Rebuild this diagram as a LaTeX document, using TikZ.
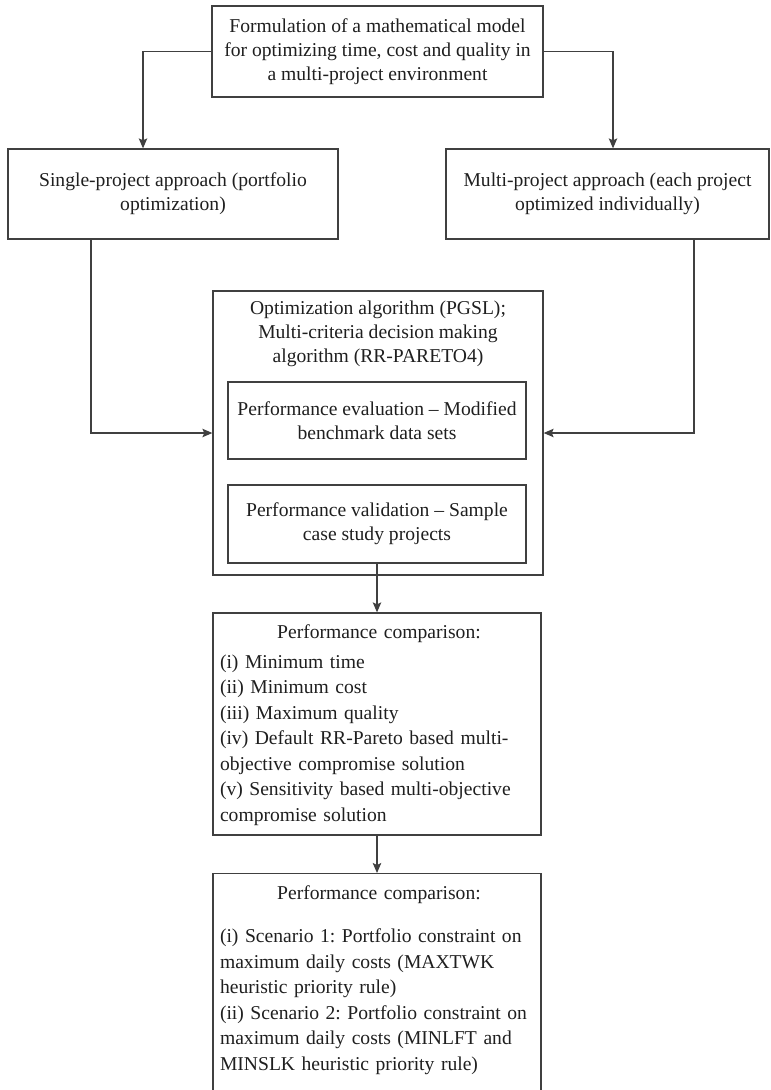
\documentclass[tikz,border=0pt]{standalone}
\usepackage{fontspec}
\setmainfont{Liberation Serif}
\usetikzlibrary{arrows.meta}
\frenchspacing
\begin{document}
\begin{tikzpicture}[x=1pt,y=-1pt,
  box/.style={draw=black!75, line width=1.3pt, inner sep=0pt, rectangle},
  txt/.style={align=center, font=\fontsize{19.6}{24}\selectfont, text=black!88, inner sep=0pt},
  ltxt/.style={align=left, text width=318pt, font=\fontsize{19.6}{25.5}\selectfont\frenchspacing, text=black!88, inner sep=0pt},
  arr/.style={draw=black!75, line width=1.3pt, -{Stealth[length=10pt,width=8.5pt,inset=2pt]}},
]
\useasboundingbox (0,0) rectangle (771,1090);
\clip (0,0) rectangle (771,1090);
\fill[white] (0,0) rectangle (771,1090);

% boxes
\node[box, minimum width=331pt, minimum height=91pt, txt] (top) at (377.5,51.5)
  {Formulation of a mathematical model\\for optimizing time, cost and quality in\\a multi-project environment};
\node[box, minimum width=330pt, minimum height=90pt, txt] (left) at (173,194)
  {Single-project approach (portfolio\\optimization)};
\node[box, minimum width=323pt, minimum height=90pt, txt] (right) at (607.5,194)
  {Multi-project approach (each project\\optimized individually)};

\node[box, minimum width=330pt, minimum height=284pt] (big) at (378,433) {};
\node[txt] (bigtxt) at (378,333.5)
  {Optimization algorithm (PGSL);\\Multi-criteria decision making\\algorithm (RR-PARETO4)};
\node[box, minimum width=298pt, minimum height=77pt, txt] (in1) at (377,420.5)
  {Performance evaluation -- Modified\\benchmark data sets};
\node[box, minimum width=298pt, minimum height=78pt, txt] (in2) at (377,524)
  {Performance validation -- Sample\\case study projects};

\node[box, minimum width=328pt, minimum height=222pt] (b3) at (377,724) {};
\node[ltxt] (b3txt) at (379,725)
  {\makebox[318pt][c]{Performance comparison:}\\[4pt]
   (i) Minimum time\\
   (ii) Minimum cost\\
   (iii) Maximum quality\\
   (iv) Default RR-Pareto based multi-\\
   objective compromise solution\\
   (v) Sensitivity based multi-objective\\
   compromise solution};

\node[box, minimum width=328pt, minimum height=250pt, anchor=north] (b4) at (377,873) {};
\node[ltxt, anchor=north] (b4txt) at (379,885)
  {\makebox[318pt][c]{Performance comparison:}\\[18pt]
   (i) Scenario 1: Portfolio constraint on\\
   maximum daily costs (MAXTWK\\
   heuristic priority rule)\\
   (ii) Scenario 2: Portfolio constraint on\\
   maximum daily costs (MINLFT and\\
   MINSLK heuristic priority rule)};

% connectors
\draw[arr] (top.west) -| ([xshift=-30pt]left.north);
\draw[arr] (top.east) -| ([xshift=5.5pt]right.north);
\draw[arr] ([xshift=-82pt]left.south) |- (big.west);
\draw[arr] ([xshift=86.5pt]right.south) |- (big.east);
\draw[arr] (in2.south) -- (b3.north);
\draw[arr] (b3.south) -- (b4.north);
\end{tikzpicture}
\end{document}
